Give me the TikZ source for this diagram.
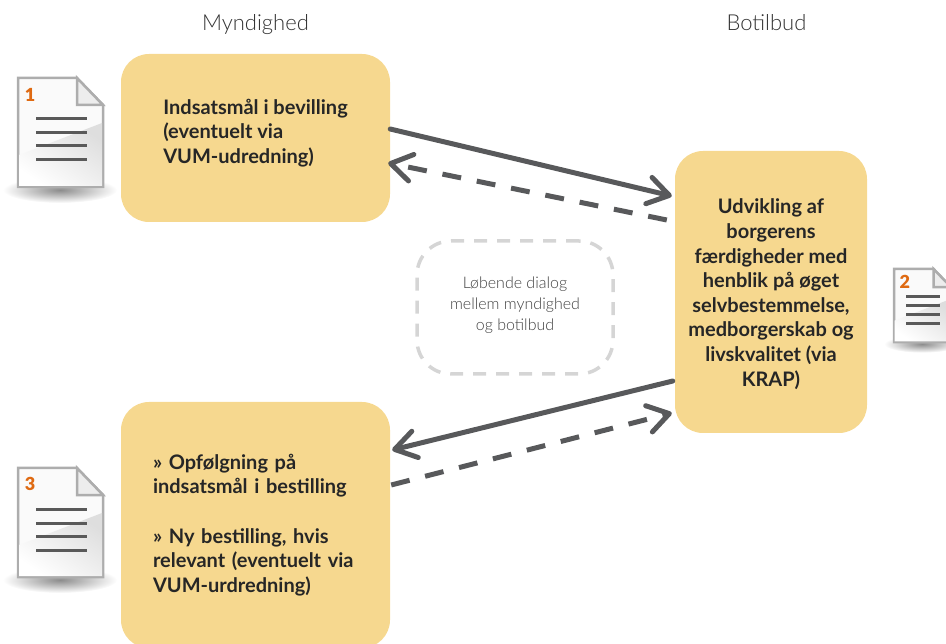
\documentclass[tikz,border=0pt]{standalone}
\usepackage{fontspec}
\setmainfont{Lato}
\newfontfamily\lightfont{Lato Light}
\newfontfamily\blackfont{Lato Black}
\usetikzlibrary{arrows.meta,shadings}

\definecolor{boxyellow}{HTML}{F6D88F}
\definecolor{arrowgray}{HTML}{58595B}
\definecolor{dialoggray}{HTML}{D5D5D5}
\definecolor{numberorange}{HTML}{DF6A12}

\tikzstyle{arrow} = [line width=5pt,draw=arrowgray,line cap=round,-{Straight Barb[length=21pt,width=27pt,round]}]
\tikzstyle{dashedarrow} = [arrow,dash pattern=on 19pt off 16pt,line cap=butt]
\tikzstyle{yellowbox} = [
        rectangle,
        rounded corners=28pt,
        inner sep=0pt,
        align=left,
        fill=boxyellow,
        text=black!85,
        font=\fontsize{20}{24.6}\selectfont\bfseries
    ]
\tikzstyle{dialogbox} = [
        rectangle,
        rounded corners=34pt,
        minimum width=196pt,
        minimum height=133pt,
        align=center,
        draw=dialoggray,
        line width=3.5pt,
        dash pattern=on 13pt off 10pt,
        text=black!75,
        font=\fontsize{16}{21}\selectfont\lightfont
    ]
\tikzstyle{title} = [text=black!80,text height=15pt,text depth=5pt,font=\fontsize{22}{24}\selectfont\lightfont]
\tikzstyle{docnumber} = [text=numberorange,inner sep=0pt,font=\fontsize{18}{20}\selectfont\blackfont]

\tikzset{
    pics/docicon/.style={code={
        \shade [inner color=black!45,outer color=white] (42,112) ellipse [x radius=57,y radius=13];
        \draw [draw=black!32,line width=2.5pt,fill=black!2]
            (0,0) -- (59,0) -- (85,27) -- (85,109) -- (0,109) -- cycle;
        \shade [top color=black!13,bottom color=white,shading angle=-35] (1,77) -- (84,45) -- (84,108) -- (1,108) -- cycle;
        \draw [draw=black!32,line width=2.5pt,fill=black!7] (59,0) -- (59,27) -- (85,27) -- cycle;
        \foreach \liney in {41,55,68,82}
            \draw [draw=black!65,line width=3pt] (18,\liney) -- (69,\liney);
        \node [docnumber] (-num) at (#1) {\numtext};
    }}
}

\begin{document}
\begin{tikzpicture}[x=1pt,y=-1pt]

        \clip (0,0) rectangle (946,644);

        \node [yellowbox, minimum width=269pt, minimum height=168pt] (bevilling) at (255.5,138)
            {Indsatsmål i bevilling\\(eventuelt via\\VUM-udredning)\\[-18pt]\strut};
        \node [yellowbox, text width=205pt, minimum width=269pt, minimum height=246pt, below of=bevilling, node distance=387pt] (opfolgning)
            {» Opfølgning på\\indsatsmål i bestilling\\[25pt]» Ny bestilling, hvis\\relevant (eventuelt via\\VUM-urdredning)};
        \node [yellowbox, align=center, minimum width=192pt, minimum height=282pt, right of=bevilling, node distance=515.5pt, yshift=-154pt] (udvikling)
            {\rule{0pt}{19pt}Udvikling af\\borgerens\\færdigheder med\\henblik på øget\\selvbestemmelse,\\medborgerskab og\\livskvalitet (via\\KRAP)};
        \node [dialogbox, right of=bevilling, node distance=259.5pt, yshift=-169.5pt] (dialog)
            {Løbende dialog\\mellem myndighed\\og botilbud\rule[-8pt]{0pt}{0pt}};

        \node [title, above of=bevilling, node distance=112pt] (myndighed) {Myndighed};
        \node [title, right of=myndighed, node distance=511pt] (botilbud) {Botilbud};

        \def\numtext{1}
        \pic (docone) at (18,78) {docicon={12,17}};
        \def\numtext{2}
        \pic (doctwo) at (894,269) [scale=0.67] {docicon={16,19}};
        \def\numtext{3}
        \pic (docthree) at (18,468) {docicon={12,16}};

        \draw [arrow] ([yshift=9pt]bevilling.east) -- ([xshift=-3pt,yshift=96pt]udvikling.west);
        \draw [dashedarrow] ([xshift=-8pt,yshift=72pt]udvikling.west) -- ([xshift=-2pt,yshift=-25pt]bevilling.east);
        \draw [arrow] ([xshift=-2pt,yshift=-89pt]udvikling.west) -- ([xshift=2pt,yshift=75pt]opfolgning.east);
        \draw [dashedarrow] ([xshift=1pt,yshift=40pt]opfolgning.east) -- ([xshift=-3pt,yshift=-121pt]udvikling.west);

    \end{tikzpicture}
\end{document}
